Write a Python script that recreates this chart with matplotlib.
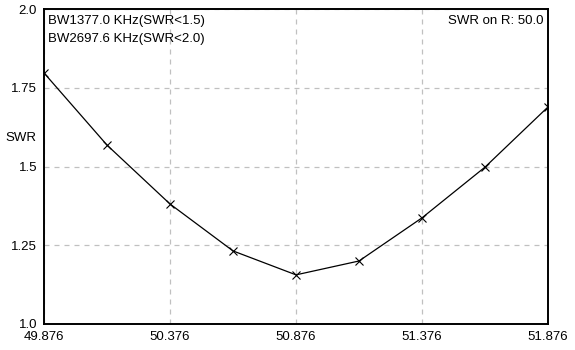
import numpy as np
import matplotlib.pyplot as plt

plt.rcParams['font.family'] = ['Liberation Sans', 'DejaVu Sans']

# частоты (МГц) и КСВ
freq = [49.876, 50.126, 50.376, 50.626, 50.876, 51.126, 51.376, 51.626, 51.876]
swr = [1.797, 1.568, 1.381, 1.232, 1.156, 1.200, 1.337, 1.498, 1.689]

xticks = [49.876, 50.376, 50.876, 51.376, 51.876]
xtick_labels = ['49.876', '50.376', '50.876', '51.376', '51.876']
yticks = [1.0, 1.25, 1.5, 1.75, 2.0]
ytick_labels = ['1.0', '1.25', '1.5', '1.75', '2.0']

W, H = 575, 350
fig = plt.figure(figsize=(W / 100, H / 100), dpi=100)
ax = fig.add_axes([44 / W, (H - 324) / H, 504 / W, 315 / H])

ax.plot(freq, swr, color='black', linewidth=0.9, marker='x',
        markersize=5.5, markeredgewidth=0.8, zorder=3)

ax.set_xlim(xticks[0], xticks[-1])
ax.set_ylim(1.0, 2.0)
ax.set_xticks(xticks)
ax.set_xticklabels(xtick_labels)
ax.set_yticks(yticks)
ax.set_yticklabels(ytick_labels)
ax.tick_params(length=0, labelsize=9.5, colors='black')
ax.tick_params(axis='x', pad=5)
ax.tick_params(axis='y', pad=5)

ax.grid(True, color='#c0c0c0', linestyle=(0, (4, 4)), linewidth=0.9)
for s in ax.spines.values():
    s.set_linewidth(1.4)
    s.set_color('black')

ax.text(0.008, 0.98, 'BW1377.0 KHz(SWR<1.5)\nBW2697.6 KHz(SWR<2.0)',
        transform=ax.transAxes, ha='left', va='top', fontsize=9.5,
        linespacing=1.6)
ax.text(0.992, 0.98, 'SWR on R: 50.0', transform=ax.transAxes,
        ha='right', va='top', fontsize=9.5)
fig.text(5 / W, 1 - 138 / H, 'SWR', ha='left', va='center', fontsize=9.5)

fig.savefig('out.png', dpi=100, facecolor='white')
